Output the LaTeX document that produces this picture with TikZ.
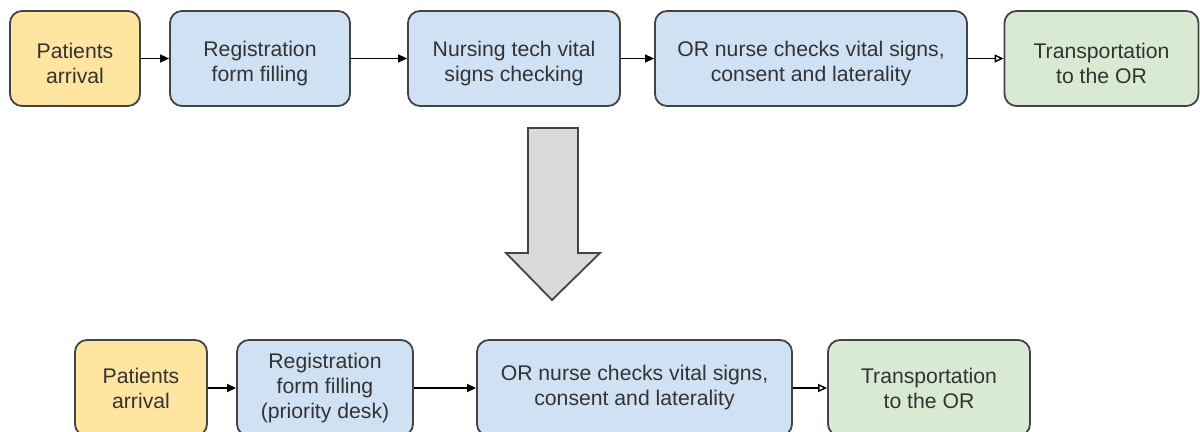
\documentclass[tikz,border=0pt]{standalone}
\usepackage{fontspec}
\setmainfont{Liberation Sans}
\usetikzlibrary{arrows.meta}
\definecolor{startfill}{HTML}{FFE5A0}
\definecolor{stepfill}{HTML}{CFE2F3}
\definecolor{endfill}{HTML}{D9EAD3}
\definecolor{edge}{HTML}{434343}
\definecolor{bigarrow}{HTML}{D9D9D9}
\definecolor{ink}{HTML}{333333}
% taller first line, so the text sits a little below the box centre
\newcommand\lowertext{\rule{0pt}{13pt}}
\begin{document}
\begin{tikzpicture}[x=0.5pt,y=-0.5pt,
  box/.style={draw=edge, line width=0.9pt, rounded corners=6pt,
    minimum height=47.5pt, inner sep=2pt, align=center, text=ink,
    font=\fontsize{10.6}{12.5}\selectfont},
  startbox/.style={box, fill=startfill},
  procbox/.style={box, fill=stepfill},
  endbox/.style={box, fill=endfill},
  flow/.style={draw=black, line width=0.7pt, -{Triangle[length=4.5pt,width=4pt]}},
  flowopen/.style={draw=black, line width=0.7pt, -{Triangle[open,length=4.5pt,width=4pt]}}
]
\useasboundingbox (0,0) rectangle (1200,432);

% current process
\node[startbox, minimum width=65pt]  (a1) at (75,58.5)   {\lowertext Patients\\arrival};
\node[procbox,  minimum width=90pt]  (a2) at (260,58.5)  {\lowertext Registration\\form filling};
\node[procbox,  minimum width=106pt] (a3) at (514,58.5)  {\lowertext Nursing tech vital\\signs checking};
\node[procbox,  minimum width=156pt] (a4) at (811,58.5)  {\lowertext OR nurse checks vital signs,\\consent and laterality};
\node[endbox,   minimum width=97pt]  (a5) at (1101.5,58.5) {\lowertext Transportation\\to the OR};

\draw[flow] (a1) -- (a2);
\draw[flow] (a2) -- (a3);
\draw[flow] (a3) -- (a4);
\draw[flowopen] (a4) -- (a5);

% block arrow between the two processes
\draw[draw=edge, line width=0.9pt, fill=bigarrow, line join=miter]
  (528,128) -- (578,128) -- (578,253) -- (600,253) -- (552,300)
  -- (506,253) -- (528,253) -- cycle;

% improved process
\node[startbox, minimum width=66pt,  minimum height=48pt] (b1) at (141,388)   {Patients\\arrival};
\node[procbox,  minimum width=88pt,  minimum height=48pt] (b2) at (325,388)   {Registration\\form filling\\(priority desk)};
\node[procbox,  minimum width=157.5pt, minimum height=48pt] (b3) at (634.5,388) {OR nurse checks vital signs,\\consent and laterality};
\node[endbox,   minimum width=101pt, minimum height=48pt] (b4) at (929,388)   {Transportation\\to the OR};

\draw[flow] (b1) -- (b2);
\draw[flow] (b2) -- (b3);
\draw[flowopen] (b3) -- (b4);
\end{tikzpicture}
\end{document}
